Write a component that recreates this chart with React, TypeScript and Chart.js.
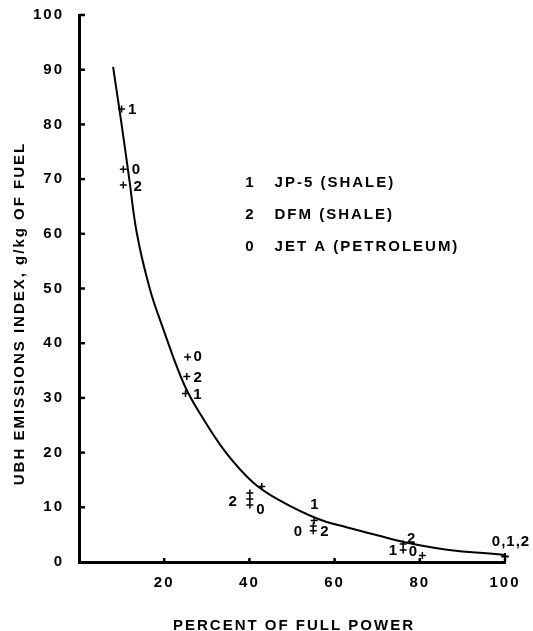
import React, { useEffect, useRef } from "react";
import { Chart, registerables } from "chart.js";

Chart.register(...registerables);

// ---- data ----
const curveX = [8.0, 10.0, 11.8, 13.6, 16.6, 19.6, 24.7, 29, 34.5, 40.8, 47, 56, 63, 70, 76, 86, 100];
const curveY = [90.5, 80, 70, 60, 50, 43, 32.4, 26.4, 20, 14.6, 11.3, 7.9, 6.3, 4.9, 3.7, 2.3, 1.3];

const jp5X = [10.0, 25.0, 42.9, 55.2, 76.1, 100];
const jp5Y = [82.8, 30.8, 13.8, 7.6, 2.2, 1.0];
const dfmX = [10.4, 25.3, 40.1, 40.1, 55.0, 76.1, 100];
const dfmY = [68.9, 33.9, 12.6, 11.5, 5.7, 3.3, 1.0];
const jetX = [10.4, 25.5, 40.1, 55.0, 80.6, 100];
const jetY = [71.8, 37.5, 10.4, 6.6, 1.2, 1.0];

const pointLabelText = ["1", "0", "2", "0", "2", "1", "2", "0", "1", "0", "2", "2", "1", "0", "0,1,2"];
const pointLabelX = [12.6, 13.5, 13.9, 28.0, 28.0, 27.9, 36.2, 42.7, 55.4, 51.5, 57.7, 78.1, 73.8, 78.5, 101.4];
const pointLabelY = [82.6, 71.7, 68.6, 37.5, 33.7, 30.5, 11.0, 9.5, 10.4, 5.5, 5.5, 4.3, 2.0, 1.8, 3.6];

const legendCodes = ["1", "2", "0"];
const legendNames = ["JP-5 (SHALE)", "DFM (SHALE)", "JET A (PETROLEUM)"];

const xTickValues = [20, 40, 60, 80, 100];
const yTickValues = [10, 20, 30, 40, 50, 60, 70, 80, 90, 100];

const xTitle = "PERCENT OF FULL POWER";
const yTitle = "UBH EMISSIONS INDEX, g/kg OF FUEL";

const FONT = '"Liberation Sans", Arial, sans-serif';

const zip = (xs: number[], ys: number[]) => xs.map((x, i) => ({ x, y: ys[i] }));

const annotatePlugin = {
  id: "annotate",
  beforeDraw(chart: any) {
    chart.ctx.letterSpacing = "2px";
  },
  afterDraw(chart: any) {
    const { ctx, chartArea: a, scales } = chart;
    const xs = scales.x;
    const ys = scales.y;
    ctx.save();
    ctx.letterSpacing = "2px";
    // inward tick marks
    ctx.strokeStyle = "#000";
    ctx.lineWidth = 2.5;
    yTickValues.forEach((v) => {
      const py = ys.getPixelForValue(v);
      ctx.beginPath();
      ctx.moveTo(a.left, py);
      ctx.lineTo(a.left + 6, py);
      ctx.stroke();
    });
    xTickValues.forEach((v) => {
      const px = xs.getPixelForValue(v);
      ctx.beginPath();
      ctx.moveTo(px, a.bottom);
      ctx.lineTo(px, a.bottom - 4);
      ctx.stroke();
    });
    ctx.fillStyle = "#000";
    // point labels
    ctx.font = `bold 15px ${FONT}`;
    ctx.letterSpacing = "1px";
    ctx.textAlign = "center";
    ctx.textBaseline = "middle";
    pointLabelText.forEach((t, i) => {
      ctx.fillText(t, xs.getPixelForValue(pointLabelX[i]), ys.getPixelForValue(pointLabelY[i]));
    });
    // legend
    const w = a.right - a.left;
    ctx.font = `bold 15px ${FONT}`;
    legendCodes.forEach((c, i) => {
      const rowY = a.top + 168 + i * 32;
      ctx.letterSpacing = "0px";
      ctx.textAlign = "center";
      ctx.fillText(c, a.left + 0.4 * w, rowY);
      ctx.letterSpacing = "2px";
      ctx.textAlign = "left";
      ctx.fillText(legendNames[i], a.left + 0.459 * w, rowY);
    });
    // axis titles
    ctx.textAlign = "center";
    ctx.letterSpacing = "2px";
    ctx.fillText(xTitle, (a.left + a.right) / 2 + 2, a.bottom + 64);
    ctx.save();
    ctx.translate(a.left - 59, (a.top + a.bottom) / 2 + 25);
    ctx.rotate(-Math.PI / 2);
    ctx.fillText(yTitle, 0, 0);
    ctx.restore();
    ctx.restore();
  },
};

export default function App() {
  const ref = useRef<HTMLCanvasElement | null>(null);
  useEffect(() => {
    if (!ref.current) return;
    const crossStyle = {
      pointStyle: "cross" as const,
      pointRadius: 3.5,
      pointBorderWidth: 1.5,
      borderColor: "#000",
      backgroundColor: "#000",
      showLine: false,
      clip: false as any,
    };
    const chart = new Chart(ref.current, {
      type: "scatter",
      data: {
        datasets: [
          {
            label: "curve",
            data: zip(curveX, curveY),
            showLine: true,
            pointRadius: 0,
            borderColor: "#000",
            borderWidth: 2,
            tension: 0.4,
            clip: false as any,
          } as any,
          { label: "JP-5 (SHALE)", data: zip(jp5X, jp5Y), ...crossStyle },
          { label: "DFM (SHALE)", data: zip(dfmX, dfmY), ...crossStyle },
          { label: "JET A (PETROLEUM)", data: zip(jetX, jetY), ...crossStyle },
        ],
      },
      options: {
        responsive: false,
        animation: false,
        events: [],
        layout: { padding: { top: 15, right: 28, left: 0, bottom: 0 } },
        plugins: { legend: { display: false }, tooltip: { enabled: false } },
        scales: {
          x: {
            type: "linear",
            min: 0,
            max: 100,
            afterFit: (s: any) => {
              s.height = 69;
              s.paddingLeft = 0;
            },
            afterBuildTicks: (s: any) => {
              s.ticks = xTickValues.map((v) => ({ value: v }));
            },
            grid: { display: false, drawTicks: false },
            border: { display: true, color: "#000", width: 3 },
            ticks: {
              color: "#000",
              padding: 12,
              font: { family: FONT, size: 15, weight: "bold" },
              maxRotation: 0,
            },
          },
          y: {
            type: "linear",
            min: 0,
            max: 100,
            afterFit: (s: any) => {
              s.width = 79;
              s.paddingTop = 0;
              s.paddingBottom = 0;
            },
            afterBuildTicks: (s: any) => {
              s.ticks = [0, ...yTickValues].map((v) => ({ value: v }));
            },
            grid: { display: false, drawTicks: false },
            border: { display: true, color: "#000", width: 3 },
            ticks: {
              color: "#000",
              padding: 15,
              font: { family: FONT, size: 15, weight: "bold" },
            },
          },
        },
      } as any,
      plugins: [annotatePlugin],
    });
    return () => chart.destroy();
  }, []);
  return (
    <div style={{ position: "fixed", left: 0, top: 0, width: 533, height: 631, background: "#fff" }}>
      <canvas ref={ref} width={533} height={631} style={{ display: "block" }} />
    </div>
  );
}
